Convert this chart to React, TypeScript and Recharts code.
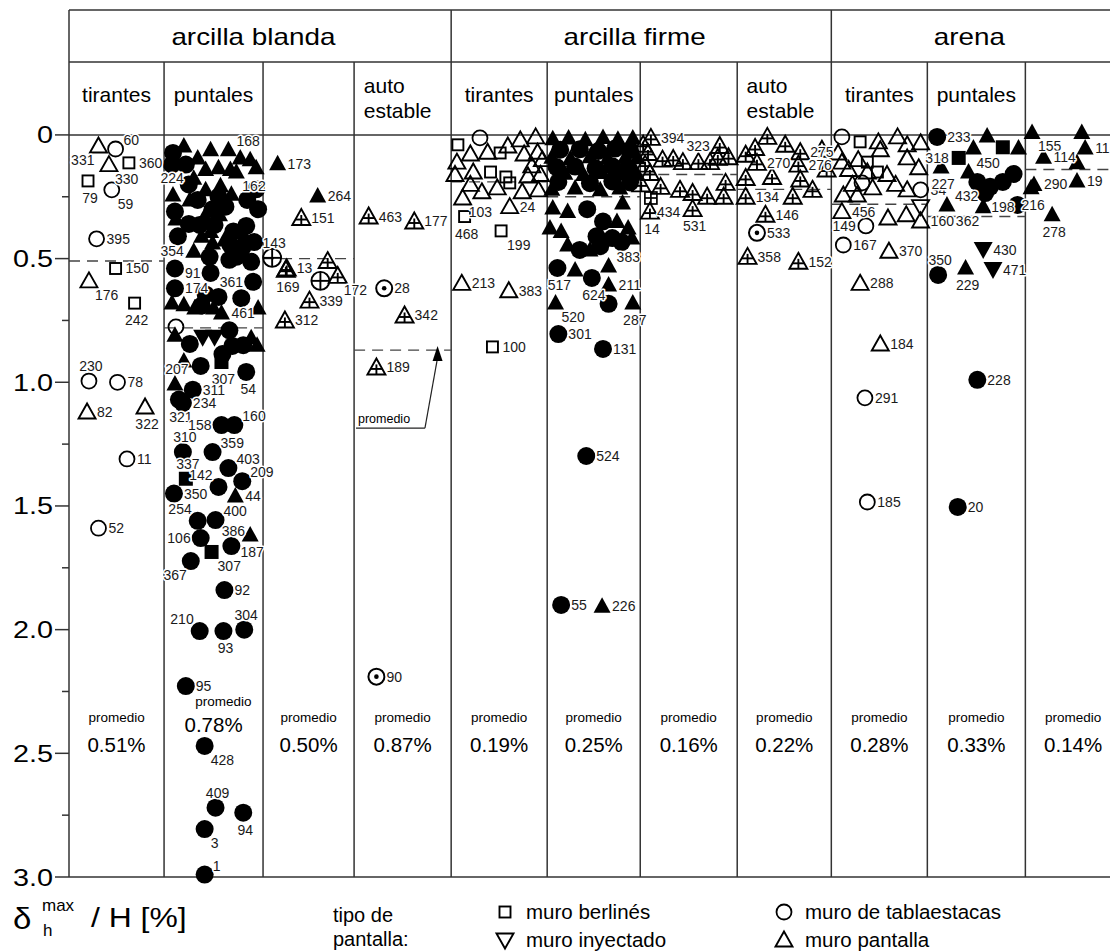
import React from 'react';
import { ScatterChart, Scatter, XAxis, YAxis, ReferenceLine, ReferenceDot } from 'recharts';

const FONT = '"Liberation Sans", Arial, Helvetica, sans-serif';
const INK = '#000000';
const RULE = '#333333';

// ---------------- data ----------------
const soilGroups = ['arcilla blanda', 'arcilla firme', 'arena'];
const groupEdgeIndex = [[0, 4], [4, 8], [8, 11]];
const columnTitles: string[][] = [
  ['tirantes'], ['puntales'], [], ['auto', 'estable'],
  ['tirantes'], ['puntales'], [], ['auto', 'estable'],
  ['tirantes'], ['puntales'], [],
];
const colEdges = [0, 0.994, 2.029, 2.981, 3.996, 5.0, 5.973, 6.987, 7.971, 8.975, 10.0, 11.0];
const averages = [0.51, 0.78, 0.5, 0.87, 0.19, 0.25, 0.16, 0.22, 0.28, 0.33, 0.14];
const averageLabels = ['0.51%', '0.78%', '0.50%', '0.87%', '0.19%', '0.25%', '0.16%', '0.22%', '0.28%', '0.33%', '0.14%'];
const yTicks = [0, 0.25, 0.5, 0.75, 1, 1.25, 1.5, 1.75, 2, 2.25, 2.5, 2.75, 3];
const yTickLabels: Record<string, string> = { '0': '0', '0.5': '0.5', '1': '1.0', '1.5': '1.5', '2': '2.0', '2.5': '2.5', '3': '3.0' };
const legendItems = [
  { s: 'sq', text: 'muro berlinés' },
  { s: 'it', text: 'muro inyectado' },
  { s: 'ci', text: 'muro de tablaestacas' },
  { s: 'tr', text: 'muro pantalla' },
];

// [position within column (0..1), delta/H %, symbol, case number, label side]
type Pt = [number, number, string, string?, string?];

const col0: Pt[] = [
  [0.31, 0.045, 'tr', '331', 'bl'], [0.49, 0.057, 'ci', '60', 'tr'], [0.42, 0.12, 'tr', '330', 'br'],
  [0.63, 0.113, 'sq', '360', 'r'], [0.2, 0.186, 'sq', '79', 'b'], [0.45, 0.222, 'ci', '59', 'br'],
  [0.29, 0.42, 'ci', '395', 'r'], [0.49, 0.54, 'sq', '150', 'r'], [0.21, 0.59, 'tr', '176', 'br'],
  [0.69, 0.68, 'sq', '242', 'b'], [0.21, 0.995, 'ci', '230', 't'], [0.51, 1.0, 'ci', '78', 'r'],
  [0.19, 1.12, 'tr', '82', 'r'], [0.8, 1.1, 'tr', '322', 'b'], [0.61, 1.31, 'ci', '11', 'r'],
  [0.31, 1.59, 'ci', '52', 'r'],
];

const col1: Pt[] = [
  [0.09, 0.073, 'CI'], [0.08, 0.12, 'CI'], [0.22, 0.12, 'CI'], [0.2, 0.045, 'TR'], [0.34, 0.093, 'TR'],
  [0.47, 0.06, 'TR'], [0.65, 0.06, 'TR', '168', 'tr'], [0.77, 0.093, 'TR'], [0.87, 0.1, 'TR'],
  [0.93, 0.133, 'TR'], [0.42, 0.14, 'TR'], [0.55, 0.133, 'TR'], [0.67, 0.14, 'TR'],
  [0.3, 0.175, 'TR', '224', 'l'], [0.73, 0.15, 'TR', '162', 'br'],
  [0.09, 0.243, 'TR'], [0.26, 0.263, 'TR'], [0.42, 0.222, 'TR'], [0.57, 0.206, 'TR'], [0.68, 0.24, 'TR'],
  [0.25, 0.2, 'CI'], [0.55, 0.25, 'CI'], [0.93, 0.22, 'CI'], [0.95, 0.3, 'CI'], [0.62, 0.29, 'CI'],
  [0.11, 0.31, 'CI'], [0.34, 0.263, 'CI'], [0.49, 0.3, 'CI'], [0.84, 0.263, 'CI'], [0.12, 0.34, 'TR'],
  [0.14, 0.41, 'CI'], [0.36, 0.364, 'CI'], [0.51, 0.364, 'CI'], [0.56, 0.323, 'TR'], [0.7, 0.39, 'CI'],
  [0.83, 0.368, 'CI'], [0.91, 0.433, 'CI'], [0.41, 0.33, 'TR'], [0.47, 0.39, 'TR'], [0.61, 0.425, 'TR'],
  [0.25, 0.36, 'CI'], [0.67, 0.445, 'CI'], [0.81, 0.408, 'TR'], [0.38, 0.41, 'TR'], [0.49, 0.437, 'TR'],
  [0.73, 0.493, 'CI'], [0.79, 0.457, 'CI'], [0.3, 0.47, 'TR', '354', 'l'], [0.11, 0.54, 'CI'],
  [0.46, 0.493, 'CI'], [0.47, 0.558, 'CI', '91', 'l'], [0.66, 0.505, 'CI'],
  [0.88, 0.513, 'CI'], [0.11, 0.62, 'CI', '174', 'r'], [0.9, 0.594, 'CI', '361', 'l'],
  [0.42, 0.645, 'CI'], [0.55, 0.655, 'CI'], [0.38, 0.69, 'CI'],
  [0.78, 0.66, 'CI'], [0.08, 0.68, 'TR'], [0.2, 0.687, 'TR'], [0.31, 0.7, 'TR'], [0.5, 0.7, 'TR'],
  [0.95, 0.7, 'TR'], [0.58, 0.72, 'TR', '461', 'r'],
  [0.12, 0.776, 'ci'], [0.11, 0.81, 'TR'], [0.26, 0.845, 'CI'], [0.39, 0.82, 'IT'], [0.51, 0.82, 'IT'],
  [0.66, 0.79, 'CI'], [0.69, 0.853, 'CI'], [0.8, 0.85, 'CI'], [0.88, 0.82, 'TR'], [0.94, 0.85, 'TR'],
  [0.59, 0.886, 'CI'], [0.58, 0.918, 'SQ', '307', 'b'], [0.37, 0.934, 'CI'], [0.83, 0.958, 'CI', '54', 'b'],
  [0.2, 0.914, 'TR'], [0.11, 1.007, 'TR', '207', 't'], [0.29, 1.03, 'CI', '311', 'r'],
  [0.19, 1.084, 'CI', '234', 'r'], [0.15, 1.07, 'CI', '321', 'b'], [0.58, 1.173, 'CI', '158', 'l'],
  [0.71, 1.173, 'CI', '160', 'tr'], [0.19, 1.282, 'CI', '310', 't'], [0.49, 1.282, 'CI', '359', 'tr'],
  [0.65, 1.347, 'CI', '403', 'tr'], [0.79, 1.4, 'CI', '209', 'tr'], [0.22, 1.39, 'SQ', '337', 't'],
  [0.55, 1.423, 'CI', '142', 'tl'], [0.72, 1.46, 'TR', '44', 'r'], [0.1, 1.45, 'CI', '350', 'r'],
  [0.34, 1.56, 'CI', '254', 'tl'], [0.52, 1.557, 'CI', '400', 'tr'], [0.37, 1.63, 'CI', '106', 'l'],
  [0.68, 1.662, 'CI', '386', 't'], [0.87, 1.617, 'TR', '187', 'b'], [0.48, 1.686, 'SQ', '307', 'br'],
  [0.27, 1.723, 'CI', '367', 'bl'], [0.61, 1.84, 'CI', '92', 'r'], [0.36, 2.006, 'CI', '210', 'tl'],
  [0.6, 2.006, 'CI', '93', 'b'], [0.81, 2.0, 'CI', '304', 't'], [0.22, 2.228, 'CI', '95', 'r'],
  [0.41, 2.47, 'CI', '428', 'br'], [0.52, 2.72, 'CI', '409', 't'], [0.8, 2.74, 'CI', '94', 'b'],
  [0.41, 2.806, 'CI', '3', 'br'], [0.41, 2.99, 'CI', '1', 'tr'],
];

const col2: Pt[] = [
  [0.16, 0.117, 'TR', '173', 'r'], [0.6, 0.247, 'TR', '264', 'r'], [0.42, 0.336, 'ht', '151', 'r'],
  [0.1, 0.497, 'cx', '143', 't'], [0.26, 0.54, 'ht', '13', 'r'], [0.25, 0.545, 'ht', '169', 'b'],
  [0.71, 0.51, 'ht'], [0.82, 0.57, 'ht', '172', 'br'], [0.63, 0.59, 'cx'],
  [0.51, 0.67, 'ht', '339', 'r'], [0.24, 0.75, 'ht', '312', 'r'],
];

const col3: Pt[] = [
  [0.15, 0.33, 'ht', '463', 'r'], [0.62, 0.35, 'ht', '177', 'r'], [0.31, 0.62, 'cd', '28', 'r'],
  [0.52, 0.73, 'ht', '342', 'r'], [0.23, 0.94, 'ht', '189', 'r'], [0.23, 2.19, 'cd', '90', 'r'],
];

const col4: Pt[] = [
  [0.07, 0.04, 'sq'], [0.3, 0.012, 'ci'], [0.06, 0.11, 'tr'], [0.38, 0.07, 'tr'], [0.51, 0.073, 'sq'],
  [0.59, 0.045, 'tr'], [0.72, 0.02, 'tr'], [0.88, 0.008, 'tr'], [0.9, 0.07, 'tr'], [0.76, 0.077, 'tr'],
  [0.2, 0.077, 'tr'], [0.41, 0.15, 'sq'], [0.23, 0.15, 'tr'], [0.57, 0.17, 'sq'], [0.84, 0.125, 'tr'],
  [0.8, 0.166, 'tr'], [0.95, 0.1, 'tr'], [0.04, 0.16, 'tr'], [0.93, 0.16, 'tr'], [0.2, 0.2, 'tr'],
  [0.48, 0.214, 'tr'], [0.61, 0.194, 'sq'], [0.74, 0.23, 'tr'], [0.91, 0.222, 'tr'], [0.32, 0.23, 'tr'],
  [0.12, 0.255, 'tr', '103', 'br'], [0.61, 0.29, 'tr', '24', 'r'], [0.14, 0.33, 'sq', '468', 'b'],
  [0.52, 0.388, 'sq', '199', 'br'], [0.11, 0.6, 'tr', '213', 'r'], [0.6, 0.63, 'tr', '383', 'r'],
  [0.43, 0.857, 'sq', '100', 'r'],
];

const col5: Pt[] = [
  [0.06, 0.015, 'TR'], [0.23, 0.012, 'TR'], [0.41, 0.02, 'TR'], [0.6, 0.01, 'TR'], [0.76, 0.018, 'TR'], [0.92, 0.012, 'TR'],
  [0.14, 0.06, 'CI'], [0.35, 0.058, 'CI'], [0.55, 0.065, 'CI'], [0.73, 0.055, 'CI'], [0.89, 0.062, 'CI'],
  [0.05, 0.09, 'TR'], [0.25, 0.095, 'TR'], [0.46, 0.088, 'TR'], [0.65, 0.094, 'TR'], [0.84, 0.09, 'TR'], [0.97, 0.092, 'TR'],
  [0.1, 0.13, 'CI'], [0.3, 0.128, 'CI'], [0.52, 0.135, 'CI'], [0.7, 0.127, 'CI'], [0.87, 0.132, 'CI'],
  [0.19, 0.155, 'TR'], [0.39, 0.16, 'TR'], [0.59, 0.152, 'TR'], [0.78, 0.158, 'TR'], [0.96, 0.155, 'TR'],
  [0.12, 0.19, 'CI'], [0.46, 0.195, 'CI'], [0.7, 0.188, 'CI'], [0.89, 0.192, 'CI'],
  [0.05, 0.22, 'TR'], [0.3, 0.215, 'TR'], [0.57, 0.222, 'TR'], [0.78, 0.215, 'TR'],
  [0.06, 0.295, 'TR'], [0.22, 0.31, 'TR'], [0.43, 0.3, 'CI'], [0.81, 0.275, 'TR'], [0.6, 0.35, 'CI'],
  [0.75, 0.35, 'TR'], [0.87, 0.376, 'TR'], [0.03, 0.376, 'TR'], [0.15, 0.39, 'TR'], [0.53, 0.41, 'CI'],
  [0.7, 0.417, 'CI'], [0.22, 0.445, 'TR'], [0.35, 0.465, 'CI'], [0.57, 0.45, 'CI'], [0.46, 0.465, 'TR'],
  [0.8, 0.433, 'CI'], [0.91, 0.417, 'TR'],
  [0.66, 0.53, 'TR', '383', 'tr'], [0.11, 0.538, 'CI', '517', 'b'], [0.3, 0.546, 'TR'],
  [0.48, 0.578, 'CI', '624', 'b'], [0.66, 0.607, 'TR', '211', 'r'], [0.66, 0.683, 'CI'],
  [0.09, 0.68, 'TR', '520', 'br'], [0.92, 0.68, 'TR', '287', 'b'], [0.12, 0.805, 'CI', '301', 'r'],
  [0.6, 0.865, 'CI', '131', 'r'], [0.42, 1.298, 'CI', '524', 'r'], [0.15, 1.9, 'CI', '55', 'r'],
  [0.59, 1.905, 'TR', '226', 'r'],
];

const col6: Pt[] = [
  [0.11, 0.012, 'ht', '394', 'r'], [0.03, 0.04, 'ht'], [0.08, 0.073, 'ht'], [0.05, 0.12, 'ht'],
  [0.23, 0.1, 'ht'], [0.34, 0.097, 'ht'], [0.44, 0.11, 'ht'], [0.6, 0.11, 'ht'], [0.72, 0.11, 'ht'],
  [0.8, 0.093, 'ht'], [0.82, 0.045, 'ht', '323', 'l'], [0.91, 0.09, 'ht'], [0.1, 0.154, 'ht'],
  [0.01, 0.2, 'ht'], [0.21, 0.21, 'ht'], [0.41, 0.222, 'ht'], [0.54, 0.235, 'ht'], [0.69, 0.25, 'ht'],
  [0.86, 0.25, 'ht'], [0.88, 0.194, 'ht'], [0.11, 0.255, 'hs', '434', 'br'], [0.1, 0.31, 'ht', '14', 'b'],
  [0.54, 0.3, 'ht', '531', 'b'],
];

const col7: Pt[] = [
  [0.09, 0.08, 'ht'], [0.19, 0.053, 'ht'], [0.32, 0.008, 'ht'], [0.51, 0.04, 'ht'],
  [0.67, 0.07, 'ht', '275', 'r'], [0.21, 0.113, 'ht', '270', 'r'], [0.65, 0.12, 'ht', '276', 'r'],
  [0.09, 0.174, 'ht'], [0.37, 0.17, 'ht'], [0.67, 0.18, 'ht'], [0.8, 0.222, 'ht'], [0.9, 0.06, 'ht'],
  [0.95, 0.14, 'ht'], [0.09, 0.25, 'ht', '134', 'r'], [0.59, 0.25, 'ht'], [0.3, 0.323, 'ht', '146', 'r'],
  [0.21, 0.396, 'cd', '533', 'r'], [0.11, 0.493, 'ht', '358', 'r'], [0.65, 0.513, 'ht', '152', 'r'],
];

const col8: Pt[] = [
  [0.11, 0.008, 'ci'], [0.3, 0.028, 'sq'], [0.49, 0.028, 'tr'], [0.69, 0.008, 'tr'], [0.79, 0.04, 'tr'],
  [0.93, 0.032, 'tr'], [0.07, 0.073, 'tr'], [0.28, 0.1, 'tr'], [0.51, 0.06, 'tr'], [0.375, 0.11, 'sq'],
  [0.11, 0.11, 'tr'], [0.375, 0.15, 'tr'], [0.58, 0.16, 'tr'], [0.79, 0.093, 'tr'], [0.91, 0.133, 'tr'],
  [0.48, 0.15, 'sq'], [0.18, 0.14, 'tr'], [0.32, 0.194, 'ci'], [0.22, 0.2, 'tr'], [0.43, 0.214, 'tr'],
  [0.67, 0.2, 'tr'], [0.79, 0.222, 'tr'], [0.93, 0.222, 'ci', '34', 'r'], [0.125, 0.243, 'tr'],
  [0.27, 0.243, 'tr'], [0.11, 0.31, 'tr', '456', 'r'], [0.36, 0.368, 'ci', '149', 'l'], [0.59, 0.336, 'tr'],
  [0.78, 0.323, 'tr'], [0.93, 0.29, 'it'], [0.93, 0.348, 'tr', '160', 'r'], [0.125, 0.445, 'ci', '167', 'r'],
  [0.6, 0.47, 'tr', '370', 'r'], [0.3, 0.6, 'tr', '288', 'r'], [0.51, 0.845, 'tr', '184', 'r'],
  [0.35, 1.063, 'ci', '291', 'r'], [0.375, 1.484, 'ci', '185', 'r'],
];

const col9: Pt[] = [
  [0.1, 0.008, 'CI', '233', 'r'], [0.61, 0.004, 'TR'], [0.47, 0.053, 'TR'], [0.77, 0.05, 'SQ'],
  [0.93, 0.053, 'TR'], [0.32, 0.093, 'SQ', '318', 'l'], [0.14, 0.13, 'TR', '227', 'b'],
  [0.42, 0.15, 'TR', '450', 'tr'], [0.51, 0.19, 'CI'], [0.64, 0.21, 'CI'], [0.77, 0.19, 'CI'],
  [0.88, 0.158, 'CI'], [0.59, 0.235, 'CI', '198', 'br'], [0.2, 0.283, 'TR', '432', 'tr'],
  [0.57, 0.29, 'TR', '362', 'bl'], [0.92, 0.283, 'CI'], [0.11, 0.566, 'CI', '350', 't'],
  [0.39, 0.538, 'TR', '229', 'b'], [0.57, 0.465, 'IT', '430', 'r'], [0.67, 0.546, 'IT', '471', 'r'],
  [0.51, 0.99, 'CI', '228', 'r'], [0.31, 1.504, 'CI', '20', 'r'],
];

const col10: Pt[] = [
  [0.07, -0.01, 'TR', '155', 'br'], [0.59, -0.01, 'TR'], [0.19, 0.09, 'TR', '114', 'r'],
  [0.625, 0.053, 'TR', '115', 'r'], [0.54, 0.113, 'TR'], [0.09, 0.2, 'TR', '290', 'r'],
  [0.06, 0.214, 'TR', '216', 'b'], [0.54, 0.186, 'TR', '19', 'r'], [0.28, 0.323, 'TR', '278', 'b'],
];

const columns: Pt[][] = [col0, col1, col2, col3, col4, col5, col6, col7, col8, col9, col10];

// ---------------- helpers ----------------
const colX = (c: number, f: number) => colEdges[c] + f * (colEdges[c + 1] - colEdges[c]);
const toData = (c: number, pts: Pt[]) =>
  pts.map(([f, y, s, l, p]) => ({ x: colX(c, f), y, s, l: l || '', p: p || 'r' }));

function drawMark(s: string, cx: number, cy: number) {
  switch (s) {
    case 'ci':
      return <circle cx={cx} cy={cy} r={7.5} fill="none" stroke={INK} strokeWidth={1.8} />;
    case 'CI':
      return <circle cx={cx} cy={cy} r={9} fill={INK} />;
    case 'sq':
      return <rect x={cx - 5.5} y={cy - 5.5} width={11} height={11} fill="none" stroke={INK} strokeWidth={1.9} />;
    case 'SQ':
      return <rect x={cx - 7} y={cy - 7} width={14} height={14} fill={INK} />;
    case 'tr':
      return <polygon points={`${cx},${cy - 8.5} ${cx + 8.5},${cy + 6.5} ${cx - 8.5},${cy + 6.5}`} fill="none" stroke={INK} strokeWidth={1.9} />;
    case 'TR':
      return <polygon points={`${cx},${cy - 9} ${cx + 8.5},${cy + 6.5} ${cx - 8.5},${cy + 6.5}`} fill={INK} />;
    case 'it':
      return <polygon points={`${cx - 8.5},${cy - 6.5} ${cx + 8.5},${cy - 6.5} ${cx},${cy + 8.5}`} fill="none" stroke={INK} strokeWidth={1.9} />;
    case 'IT':
      return <polygon points={`${cx - 9.5},${cy - 8} ${cx + 9.5},${cy - 8} ${cx},${cy + 9}`} fill={INK} />;
    case 'ht':
      return (
        <g stroke={INK} strokeWidth={1.9} fill="none">
          <polygon points={`${cx},${cy - 9} ${cx + 9},${cy + 7} ${cx - 9},${cy + 7}`} />
          <line x1={cx - 5.6} x2={cx + 5.6} y1={cy + 1.5} y2={cy + 1.5} />
          <line x1={cx} x2={cx} y1={cy - 3} y2={cy + 7} />
        </g>
      );
    case 'hs':
      return (
        <g stroke={INK} strokeWidth={1.7} fill="none">
          <rect x={cx - 6} y={cy - 6} width={12} height={12} />
          <line x1={cx - 6} x2={cx + 6} y1={cy} y2={cy} />
          <line x1={cx} x2={cx} y1={cy - 6} y2={cy + 6} />
        </g>
      );
    case 'cx':
      return (
        <g stroke={INK} strokeWidth={1.9} fill="none">
          <circle cx={cx} cy={cy} r={9} />
          <line x1={cx - 9} x2={cx + 9} y1={cy} y2={cy} />
          <line x1={cx} x2={cx} y1={cy - 9} y2={cy + 9} />
        </g>
      );
    case 'cd':
      return (
        <g>
          <circle cx={cx} cy={cy} r={8} fill="none" stroke={INK} strokeWidth={2} />
          <circle cx={cx} cy={cy} r={2.3} fill={INK} />
        </g>
      );
    default:
      return <g />;
  }
}

const OFF: Record<string, [number, number, string]> = {
  r: [10, 5, 'start'], l: [-10, 5, 'end'], t: [2, -10, 'middle'], b: [2, 22, 'middle'],
  tr: [8, -4, 'start'], br: [6, 19, 'start'], bl: [-4, 19, 'end'], tl: [-6, -7, 'end'],
};

const MarkShape = (props: any) => {
  const { cx, cy, payload } = props;
  if (!Number.isFinite(cx) || !Number.isFinite(cy)) return <g />;
  return drawMark(payload.s, cx, cy);
};

const LabelShape = (props: any) => {
  const { cx, cy, payload } = props;
  if (!Number.isFinite(cx) || !Number.isFinite(cy) || !payload.l) return <g />;
  const [dx, dy, anchor] = OFF[payload.p] || OFF.r;
  return (
    <text x={cx + dx} y={cy + dy} textAnchor={anchor as any} fontSize={14} fontFamily={FONT}
      fill="#1a1a1a" stroke="#ffffff" strokeWidth={3} paintOrder="stroke" strokeLinejoin="round">
      {payload.l}
    </text>
  );
};

const textShape = (text: string, size: number, anchor: string = 'middle', sx: number = 1) => (p: any) => (
  <g transform={`translate(${p.cx},${p.cy}) scale(${sx},1)`}>
    <text x={0} y={size * 0.35} textAnchor={anchor as any} fontSize={size} fontFamily={FONT} fill={INK}>{text}</text>
  </g>
);

const YTick = (props: any) => {
  const { x, y, payload } = props;
  const v = payload.value;
  const key = String(v);
  const major = yTickLabels[key] !== undefined;
  return (
    <g>
      <line x1={x - (major ? 14 : 7)} x2={x} y1={y} y2={y} stroke={RULE} strokeWidth={1.5} />
      {major && (
        <g transform={`translate(${x - 16},${y + 8.5}) scale(1.2,1)`}>
          <text x={0} y={0} textAnchor="end" fontSize={24} fontFamily={FONT} fill={INK}>{yTickLabels[key]}</text>
        </g>
      )}
    </g>
  );
};

const LegendIcon = ({ s, cx, cy }: { s: string; cx: number; cy: number }) => drawMark(s, cx, cy);

export default function App() {
  const HEAD_TOP = -0.505;
  const HEAD_MID = -0.295;
  const lineStyle = { stroke: RULE, strokeWidth: 1.5 };
  const seriesData = columns.map((pts, c) => toData(c, pts));

  return (
    <div style={{ position: 'absolute', left: 0, top: 0, width: 1110, height: 951, overflow: 'hidden', background: '#fff' }}>
      <ScatterChart width={1121} height={951} margin={{ top: 10, right: 0, bottom: 64, left: 9 }}>
        <XAxis type="number" dataKey="x" domain={[0, 11]} ticks={colEdges} height={10} tickSize={8}
          tick={false} axisLine={lineStyle} tickLine={lineStyle} />
        <YAxis type="number" dataKey="y" domain={[HEAD_TOP, 3]} reversed ticks={yTicks} width={60}
          tick={<YTick />} tickLine={false} tickSize={0} tickMargin={0} axisLine={lineStyle} interval={0} />

        {/* header frame */}
        <ReferenceLine ifOverflow="visible" segment={[{ x: 0, y: HEAD_TOP }, { x: 11, y: HEAD_TOP }]} {...lineStyle} />
        <ReferenceLine ifOverflow="visible" segment={[{ x: 0, y: HEAD_MID }, { x: 11, y: HEAD_MID }]} {...lineStyle} />
        <ReferenceLine ifOverflow="visible" y={0} {...lineStyle} />
        {colEdges.slice(1, 11).map((e, i) => (
          <ReferenceLine key={`v${i}`} ifOverflow="visible"
            segment={[{ x: e, y: i + 1 === 4 || i + 1 === 8 ? HEAD_TOP : HEAD_MID }, { x: e, y: 3 }]} {...lineStyle} />
        ))}

        {/* average lines */}
        {averages.map((a, i) => (
          <ReferenceLine key={`a${i}`} ifOverflow="visible"
            segment={[{ x: colEdges[i], y: a }, { x: colEdges[i + 1], y: a }]}
            stroke="#444" strokeWidth={1.4} strokeDasharray="11 7" />
        ))}

        {/* promedio pointer in auto estable column */}
        <ReferenceLine ifOverflow="visible" segment={[{ x: colX(3, 0.02), y: 1.185 }, { x: colX(3, 0.73), y: 1.185 }]} stroke="#222" strokeWidth={1.2} />
        <ReferenceLine ifOverflow="visible" segment={[{ x: colX(3, 0.73), y: 1.185 }, { x: colX(3, 0.86), y: 0.9 }]} stroke="#222" strokeWidth={1.2} />
        <ReferenceDot ifOverflow="visible" x={colX(3, 0.86)} y={0.89} r={0}
          shape={(p: any) => <polygon points={`${p.cx},${p.cy - 9} ${p.cx + 5},${p.cy + 6} ${p.cx - 5},${p.cy + 6}`} fill={INK} />} />
        <ReferenceDot ifOverflow="visible" x={colX(3, 0.04)} y={1.145} r={0} shape={textShape('promedio', 12.5, 'start')} />

        {seriesData.map((d, i) => (
          <Scatter key={`m${i}`} name={`col${i}`} data={d} shape={MarkShape} isAnimationActive={false} />
        ))}
        {seriesData.map((d, i) => (
          <Scatter key={`l${i}`} name={`lab${i}`} data={d.filter((q) => q.l)} shape={LabelShape} isAnimationActive={false} />
        ))}

        {/* header texts */}
        {soilGroups.map((g, i) => (
          <ReferenceDot key={`g${i}`} ifOverflow="visible"
            x={(colEdges[groupEdgeIndex[i][0]] + colEdges[groupEdgeIndex[i][1]]) / 2 - 0.07} y={-0.396} r={0}
            shape={textShape(g, 24, 'middle', 1.16)} />
        ))}
        {columnTitles.map((t, i) =>
          t.length === 1 ? (
            <ReferenceDot key={`t${i}`} ifOverflow="visible" x={colX(i, 0.5)} y={-0.162} r={0} shape={textShape(t[0], 21)} />
          ) : t.length === 2 ? (
            <React.Fragment key={`t${i}`}>
              <ReferenceDot ifOverflow="visible" x={colX(i, 0.1)} y={-0.2} r={0} shape={textShape(t[0], 21, 'start')} />
              <ReferenceDot ifOverflow="visible" x={colX(i, 0.1)} y={-0.097} r={0} shape={textShape(t[1], 21, 'start')} />
            </React.Fragment>
          ) : null
        )}

        {/* promedio texts */}
        {averageLabels.map((a, i) => (
          <React.Fragment key={`p${i}`}>
            <ReferenceDot ifOverflow="visible" x={colX(i, i === 1 ? 0.6 : 0.5)} y={i === 1 ? 2.289 : 2.353} r={0}
              shape={textShape('promedio', 13.5)} />
            <ReferenceDot ifOverflow="visible" x={colX(i, 0.5)} y={i === 1 ? 2.386 : 2.467} r={0}
              shape={textShape(a, 20.5)} />
          </React.Fragment>
        ))}
      </ScatterChart>

      <svg width={1110} height={71} style={{ position: 'absolute', left: 0, top: 880 }} fontFamily={FONT}>
        <g transform="translate(13,49) scale(1.1,1)"><text x={0} y={0} fontSize={30} fill={INK}>δ</text></g>
        <text x={42} y={31} fontSize={17} fill={INK}>max</text>
        <text x={43} y={56} fontSize={17} fill={INK}>h</text>
        <g transform="translate(91,47) scale(1.18,1)"><text x={0} y={0} fontSize={27} fill={INK}>/ H [%]</text></g>
        <text x={333} y={42} fontSize={20} fill={INK}>tipo de</text>
        <text x={333} y={66} fontSize={20} fill={INK}>pantalla:</text>
        {legendItems.map((it, i) => {
          const cx = i < 2 ? 505 : 784;
          const cy = i % 2 === 0 ? 32 : 60;
          return (
            <g key={it.text}>
              <LegendIcon s={it.s} cx={cx} cy={cy} />
              <text x={cx + 21} y={cy + 7} fontSize={20.5} fill={INK}>{it.text}</text>
            </g>
          );
        })}
      </svg>
    </div>
  );
}
